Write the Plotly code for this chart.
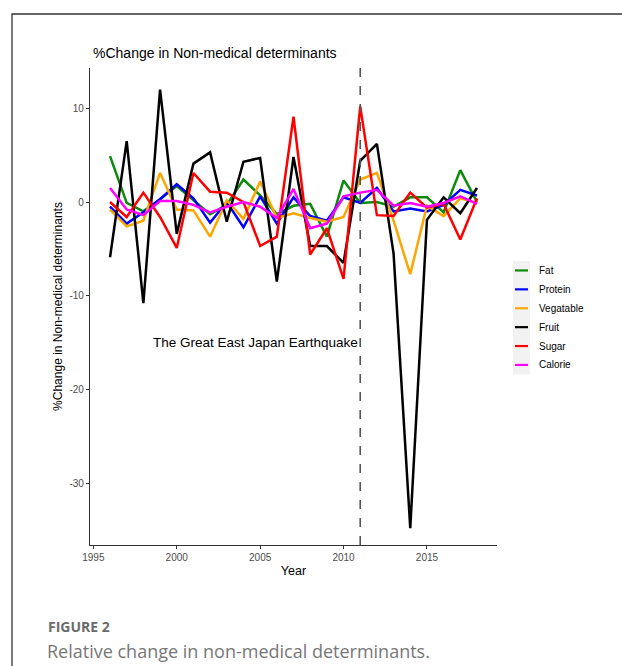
import plotly.graph_objects as go

# Annual percentage change of each non-medical determinant
years = list(range(1996, 2019))

fat = [4.9, -0.1, -1.0, 0.3, 1.7, 0.2, -1.3, -0.3, 2.4, 0.7, -1.3, -0.4, -0.2, -3.7,
       2.3, -0.1, 0.0, -0.5, 0.5, 0.5, -1.1, 3.4, 0.0]
protein = [-0.5, -2.3, -1.1, 0.3, 1.9, 0.4, -2.2, 0.0, -2.7, 0.6, -2.3, 0.5, -1.5, -2.0,
           0.5, -0.1, 1.5, -1.0, -0.7, -1.0, -0.3, 1.3, 0.7]
vegatable = [-0.8, -2.6, -2.0, 3.1, -0.8, -0.9, -3.7, 0.2, -1.8, 2.2, -1.7, -1.2, -1.7, -2.1,
             -1.6, 2.4, 3.1, -2.0, -7.7, -0.4, -1.5, 0.4, -0.1]
fruit = [-5.9, 6.5, -10.8, 12.0, -3.4, 4.1, 5.3, -2.1, 4.3, 4.7, -8.5, 4.8, -4.7, -4.7,
         -6.5, 4.4, 6.2, -5.5, -34.8, -1.9, 0.5, -1.2, 1.5]
sugar = [0.0, -1.6, 1.0, -1.6, -4.9, 3.1, 1.1, 1.0, 0.0, -4.7, -3.7, 9.1, -5.6, -2.8,
         -8.2, 10.2, -1.4, -1.5, 1.0, -0.6, -0.2, -4.0, 0.4]
calorie = [1.5, -0.8, -1.4, 0.1, 0.1, -0.3, -1.1, -0.5, 0.0, -0.5, -1.7, 1.4, -2.8, -2.3,
           0.6, 1.0, 1.3, -0.4, -0.1, -0.5, -0.1, 0.6, -0.2]

series_names = ["Fat", "Protein", "Vegatable", "Fruit", "Sugar", "Calorie"]
series_values = [fat, protein, vegatable, fruit, sugar, calorie]
series_colors = ["#0b8a0b", "#0000ff", "#ffa500", "#000000", "#ff0000", "#ff00ff"]

earthquake_year = 2011
earthquake_label = "The Great East Japan Earthquake"
earthquake_label_y = -15

x_ticks = [1995, 2000, 2005, 2010, 2015]
y_ticks = [10, 0, -10, -20, -30]
y_tick_text = ["10", "0", "-10", "-20", "-30"]

FONT = "Liberation Sans, Arial, sans-serif"

# Plot-area pixel geometry (622 x 666 page)
W, H = 622, 666
L, R, T, B = 90, 125, 68, 121
PW, PH = W - L - R, H - T - B


def px(x):
    return (x - L) / PW


def py(y):
    return (H - B - y) / PH


fig = go.Figure()

for name, vals, col in zip(series_names, series_values, series_colors):
    fig.add_trace(go.Scatter(
        x=years, y=vals, mode="lines", name=name,
        line=dict(color=col, width=2.5),
        showlegend=False,
    ))

# Earthquake marker
fig.add_shape(type="line", xref="x", yref="paper",
              x0=earthquake_year, x1=earthquake_year, y0=0, y1=1,
              line=dict(color="#555555", width=1.6, dash="dash"))
fig.add_annotation(x=earthquake_year, y=earthquake_label_y, xref="x", yref="y",
                   text=earthquake_label, showarrow=False, xanchor="right",
                   yanchor="middle", font=dict(family=FONT, size=13.5, color="#000000"))

shapes = []
annotations = []

# Outer figure frame
shapes.append(dict(type="path", xref="paper", yref="paper",
                   path=f"M {px(12)} {py(680)} L {px(12)} {py(14)} L {px(640)} {py(14)}",
                   line=dict(color="#333333", width=1.3)))

# Legend: grey key column, coloured key lines and labels
key_top, key_h = 261, 18.9
shapes.append(dict(type="rect", xref="paper", yref="paper",
                   x0=px(513), x1=px(530), y0=py(key_top), y1=py(key_top + key_h * 6),
                   fillcolor="#f2f2f2", line=dict(width=0), layer="below"))
for i, (name, col) in enumerate(zip(series_names, series_colors)):
    yc = key_top + key_h * (i + 0.5)
    shapes.append(dict(type="line", xref="paper", yref="paper",
                       x0=px(515), x1=px(528), y0=py(yc), y1=py(yc),
                       line=dict(color=col, width=2.2)))
    annotations.append(dict(xref="paper", yref="paper", x=px(537), y=py(yc),
                            text=name, showarrow=False, xanchor="left", yanchor="middle",
                            font=dict(family=FONT, size=10, color="#000000")))

# Chart title
annotations.append(dict(xref="paper", yref="paper", x=px(91), y=py(53),
                        text="%Change in Non-medical determinants", showarrow=False,
                        xanchor="left", yanchor="middle",
                        font=dict(family=FONT, size=14, color="#000000")))

# Figure caption
annotations.append(dict(xref="paper", yref="paper", x=px(46), y=py(626),
                        text="<b>FIGURE 2</b>", showarrow=False,
                        xanchor="left", yanchor="middle",
                        font=dict(family="Open Sans, sans-serif", size=14, color="#6b6b6b")))
annotations.append(dict(xref="paper", yref="paper", x=px(45), y=py(651),
                        text="Relative change in non-medical determinants.", showarrow=False,
                        xanchor="left", yanchor="middle",
                        font=dict(family="Open Sans, sans-serif", size=18, color="#777777")))

fig.update_layout(
    width=W, height=H,
    margin=dict(l=L, r=R, t=T, b=B, pad=0),
    paper_bgcolor="#ffffff", plot_bgcolor="#ffffff",
    font=dict(family=FONT),
    shapes=list(fig.layout.shapes) + shapes,
    annotations=list(fig.layout.annotations) + annotations,
    showlegend=False,
)

fig.update_xaxes(
    range=[1994.8, 2019.2], tickvals=x_ticks, ticks="outside", ticklen=3,
    tickcolor="#333333", tickwidth=1, showgrid=False, zeroline=False,
    showline=True, linecolor="#333333", linewidth=1.2,
    tickfont=dict(family=FONT, size=10, color="#4d4d4d"),
    title=dict(text="Year", font=dict(family=FONT, size=12.5, color="#000000"), standoff=4),
)
fig.update_yaxes(
    range=[-36.6, 14.3], tickvals=y_ticks, ticktext=y_tick_text, ticks="outside", ticklen=3,
    tickcolor="#333333", tickwidth=1, showgrid=False, zeroline=False,
    showline=True, linecolor="#333333", linewidth=1.2,
    tickfont=dict(family=FONT, size=10, color="#4d4d4d"),
    title=dict(text="%Change in Non-medical determinants",
               font=dict(family=FONT, size=12, color="#000000"), standoff=4),
)

fig.write_html("out.html")
